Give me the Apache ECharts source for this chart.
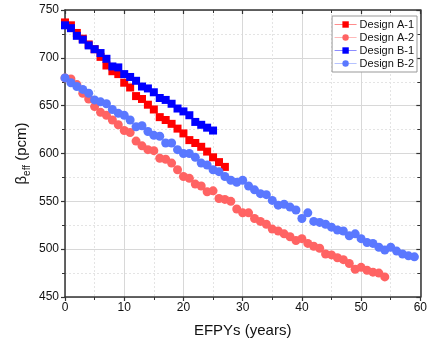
<!DOCTYPE html>
<html>
<head>
<meta charset="utf-8">
<script src="https://cdn.jsdelivr.net/npm/echarts@6/dist/echarts.min.js"></script>
<style>
  html, body { margin: 0; padding: 0; background: #fff; }
  #grafico { width: 430px; height: 350px; }
</style>
</head>
<body>
<div id="grafico"></div>
<script>
// dados (EFPY em passos de 1 ano, comecando em 0)
const nomes = ["Design A-1", "Design A-2", "Design B-1", "Design B-2"];

const designA1 = [737, 734, 726, 720, 714, 709, 701, 692, 686, 683,
    674, 669, 660, 657, 651, 646, 638, 635, 631, 626,
    621, 614, 611, 607, 602, 596, 591, 586];

const designA2 = [679, 678, 672, 663, 657, 649, 643, 640, 635, 630,
    624, 622, 613, 608, 604, 603, 595, 594, 590, 583,
    576, 574, 568, 566, 560, 561, 553, 552, 550, 542,
    538, 538, 532, 529, 526, 521, 519, 516, 513, 509,
    511, 506, 503, 501, 495, 494, 491, 489, 485, 479,
    481, 478, 476, 475, 471];

const designB1 = [734, 731, 723, 719, 713, 709, 705, 699, 691, 690,
    683, 680, 676, 670, 668, 664, 658, 656, 652, 647,
    644, 640, 633, 630, 627, 624];

const designB2 = [679, 674, 670, 667, 663, 656, 654, 652, 646, 642,
    640, 635, 628, 629, 623, 619, 618, 611, 611, 604,
    600, 600, 596, 590, 588, 583, 581, 576, 572, 570,
    572, 566, 562, 558, 557, 551, 546, 547, 544, 541,
    532, 538, 529, 528, 526, 523, 520, 519, 514, 516,
    511, 507, 506, 502, 499, 502, 498, 495, 493, 492];

const xTicks = [0, 10, 20, 30, 40, 50, 60];
const yTicks = [450, 500, 550, 600, 650, 700, 750];

const fonte = "'Liberation Sans', Arial, sans-serif";

function pares(valores) {
    return valores.map((v, i) => [i, v]);
}

function serie(nome, valores, cor, simbolo, tamanho) {
    return {
        name: nome,
        type: "line",
        data: pares(valores),
        symbol: simbolo,
        symbolSize: tamanho,
        showSymbol: true,
        color: cor,
        itemStyle: { color: cor },
        lineStyle: { opacity: 0, color: cor },
        xAxisIndex: 0,
        yAxisIndex: 0
    };
}

const eixoX = {
    type: "value",
    min: xTicks[0],
    max: xTicks[xTicks.length - 1],
    interval: 10,
    axisLine: { show: true, onZero: false, lineStyle: { color: "#333", width: 1.5 } },
    axisTick: { show: true, length: 4, lineStyle: { color: "#333", width: 1.2 } },
    minorTick: { show: true, splitNumber: 2, length: 3, lineStyle: { color: "#333", width: 1 } },
    splitLine: { show: true, lineStyle: { color: "#d8d8d8", width: 1 } },
    minorSplitLine: { show: true, lineStyle: { color: "#e4e4e4", type: [2, 2], width: 1 } }
};

const eixoY = {
    type: "value",
    min: yTicks[0],
    max: yTicks[yTicks.length - 1],
    interval: 50,
    axisLine: { show: true, onZero: false, lineStyle: { color: "#333", width: 1.5 } },
    axisTick: { show: true, length: 4, lineStyle: { color: "#333", width: 1.2 } },
    minorTick: { show: true, splitNumber: 2, length: 3, lineStyle: { color: "#333", width: 1 } },
    splitLine: { show: true, lineStyle: { color: "#d8d8d8", width: 1 } },
    minorSplitLine: { show: true, lineStyle: { color: "#e4e4e4", type: [2, 2], width: 1 } }
};

let myChart = echarts.init(document.getElementById("grafico"));

let option = {
    animation: false,
    backgroundColor: "#fff",
    textStyle: { fontFamily: fonte },
    grid: { left: 65, right: 7, top: 10, bottom: 53 },
    legend: {
        orient: "vertical",
        right: 13,
        top: 16,
        data: nomes,
        itemWidth: 22,
        itemHeight: 8,
        itemGap: 2,
        padding: [3, 3, 3, 2],
        borderColor: "#999",
        borderWidth: 1,
        backgroundColor: "#fff",
        lineStyle: { opacity: 0.45, width: 1 },
        textStyle: { fontSize: 11, color: "#111", fontFamily: fonte, padding: [0, 0, 0, -2] }
    },
    xAxis: [
        Object.assign({}, eixoX, {
            position: "bottom",
            name: "EFPYs (years)",
            nameLocation: "middle",
            nameGap: 26,
            nameMoveOverlap: false,
            nameTextStyle: { fontSize: 15, color: "#111", fontFamily: fonte },
            axisLabel: { fontSize: 12, color: "#111", margin: 5, fontFamily: fonte }
        }),
        Object.assign({}, eixoX, {
            position: "top",
            axisLabel: { show: false },
            axisTick: { show: true, inside: true, length: 4, lineStyle: { color: "#333", width: 1.2 } },
            minorTick: { show: true, splitNumber: 2, length: 3, lineStyle: { color: "#333", width: 1 } },
            splitLine: { show: false },
            minorSplitLine: { show: false }
        })
    ],
    yAxis: [
        Object.assign({}, eixoY, {
            position: "left",
            name: "{b|β}{s|eff}{b| (pcm)}",
            nameLocation: "middle",
            nameGap: 33,
            nameMoveOverlap: false,
            nameTextStyle: {
                color: "#111",
                rich: {
                    b: { fontSize: 15, color: "#111", fontFamily: fonte, lineHeight: 20, verticalAlign: "middle" },
                    s: { fontSize: 10, color: "#111", fontFamily: fonte, lineHeight: 20, verticalAlign: "bottom", padding: [9, 0, 0, 0] }
                }
            },
            axisLabel: { fontSize: 12, color: "#111", margin: 6, fontFamily: fonte }
        }),
        Object.assign({}, eixoY, {
            position: "right",
            axisLabel: { show: false },
            axisTick: { show: true, inside: true, length: 4, lineStyle: { color: "#333", width: 1.2 } },
            minorTick: { show: true, splitNumber: 2, length: 3, lineStyle: { color: "#333", width: 1 } },
            splitLine: { show: false },
            minorSplitLine: { show: false }
        })
    ],
    series: [
        serie(nomes[0], designA1, "#ff0000", "rect", 8),
        serie(nomes[1], designA2, "#ff6363", "circle", 9),
        serie(nomes[2], designB1, "#0000ff", "rect", 8),
        serie(nomes[3], designB2, "#5a78ff", "circle", 9)
    ]
};

myChart.setOption(option);
</script>
</body>
</html>
